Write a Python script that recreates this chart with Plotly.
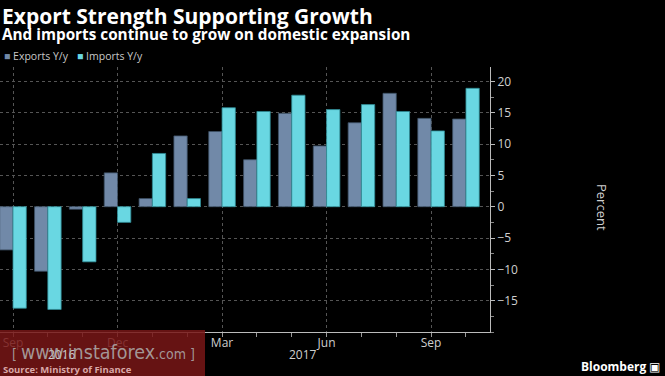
import plotly.graph_objects as go

months = ["Sep 2016", "Oct 2016", "Nov 2016", "Dec 2016", "Jan 2017", "Feb 2017", "Mar 2017",
          "Apr 2017", "May 2017", "Jun 2017", "Jul 2017", "Aug 2017", "Sep 2017", "Oct 2017"]
exports_yy = [-6.9, -10.3, -0.4, 5.4, 1.3, 11.3, 12.0, 7.5, 14.9, 9.7, 13.4, 18.1, 14.1, 14.0]
imports_yy = [-16.2, -16.4, -8.8, -2.5, 8.5, 1.3, 15.8, 15.2, 17.8, 15.5, 16.3, 15.2, 12.1, 18.9]
tick_idx = [0, 3, 6, 9, 12]
tick_text = ["Sep", "Dec", "Mar", "Jun", "Sep"]
y_ticks = [-15, -10, -5, 0, 5, 10, 15, 20]

EXP_COLOR = "#7189a8"
IMP_COLOR = "#69d7e2"

x = list(range(len(months)))

fig = go.Figure()
fig.add_trace(go.Bar(x=x, y=exports_yy, name="Exports Y/y",
                     marker=dict(color=EXP_COLOR, line=dict(color="#3e5266", width=0.8)),
                     customdata=months))
fig.add_trace(go.Bar(x=x, y=imports_yy, name="Imports Y/y",
                     marker=dict(color=IMP_COLOR, line=dict(color="#2f8a94", width=0.8)),
                     customdata=months))

fig.update_layout(
    width=665, height=376,
    paper_bgcolor="#000000", plot_bgcolor="#000000",
    margin=dict(l=0, r=175, t=67, b=44, autoexpand=False),
    barmode="group", bargap=0.237, bargroupgap=0,
    font=dict(family="Open Sans, Liberation Sans, sans-serif", color="#d0d0d0", size=12),
    showlegend=False,
    xaxis=dict(range=[-0.373, 13.69], tickvals=tick_idx, ticktext=tick_text,
               showgrid=True, gridcolor="#555555", griddash="dot", gridwidth=1,
               showline=True, linecolor="#bbbbbb", linewidth=1,
               ticks="", tickfont=dict(size=12, color="#cfcfcf"),
               minor=dict(tickvals=x, ticks="outside", ticklen=4, tickcolor="#999999", showgrid=False),
               zeroline=False, fixedrange=True),
    yaxis=dict(range=[-20, 22.3], side="right", tickvals=y_ticks,
               showgrid=True, gridcolor="#555555", griddash="dot", gridwidth=1,
               showline=True, linecolor="#bbbbbb", linewidth=1,
               ticks="outside", ticklen=4, tickcolor="#bbbbbb",
               tickfont=dict(size=12, color="#cfcfcf"),
               minor=dict(dtick=2.5, ticks="outside", ticklen=3, tickcolor="#888888", showgrid=False),
               zeroline=False, fixedrange=True),
)

plot_top, plot_bottom = 67, 332
ph = plot_bottom - plot_top
def py(ypix):
    return (plot_bottom - ypix) / ph
def px(xpix):
    return xpix / 490.0

annos = [
    dict(text="<b>Export Strength Supporting Growth</b>", x=px(0), y=py(16), xanchor="left", yanchor="middle",
         font=dict(size=21, color="#ffffff")),
    dict(text="<b>And imports continue to grow on domestic expansion</b>", x=px(0), y=py(34),
         xanchor="left", yanchor="middle", font=dict(size=15.3, color="#ffffff")),
    dict(text=f"<span style='color:{EXP_COLOR}'>■</span> Exports Y/y", x=px(2), y=py(56),
         xanchor="left", yanchor="middle", font=dict(size=10.5, color="#c8c8c8")),
    dict(text=f"<span style='color:{IMP_COLOR}'>■</span> Imports Y/y", x=px(75), y=py(56),
         xanchor="left", yanchor="middle", font=dict(size=10.5, color="#c8c8c8")),
    dict(text="2016", x=px(62), y=py(354), xanchor="center", yanchor="middle",
         font=dict(size=12, color="#cfcfcf")),
    dict(text="2017", x=px(303), y=py(354), xanchor="center", yanchor="middle",
         font=dict(size=12, color="#cfcfcf")),
    dict(text="Percent", x=px(602), y=py(207), xanchor="center", yanchor="middle", textangle=90,
         font=dict(size=13, color="#d0d0d0")),
    dict(text="<b>Source: Ministry of Finance</b>", x=px(1), y=py(369), xanchor="left", yanchor="middle",
         font=dict(size=9.5, color="#d9a8a8")),
    dict(text="<b>Bloomberg</b> ▣", x=px(662), y=py(366), xanchor="right", yanchor="middle",
         font=dict(size=12, color="#ffffff")),
    dict(text="[ <span style='font-size:19.5px'>www.instaforex</span>.com ]", x=px(103), y=py(352),
         xanchor="center", yanchor="middle",
         font=dict(size=14, color="rgba(175,175,175,0.85)",
                   family="Liberation Sans Narrow, DejaVu Sans Condensed, Roboto, sans-serif")),
]
for a in annos:
    a.update(xref="paper", yref="paper", showarrow=False)
fig.update_layout(annotations=annos)

fig.add_shape(type="rect", xref="paper", yref="paper", x0=px(0), x1=px(205), y0=py(330), y1=py(376),
              fillcolor="rgba(120,22,22,0.85)", line=dict(width=0), layer="above")

fig.write_html("out.html", config={"displayModeBar": False},
               post_script="document.body.style.margin='0';document.body.style.background='#000';")
